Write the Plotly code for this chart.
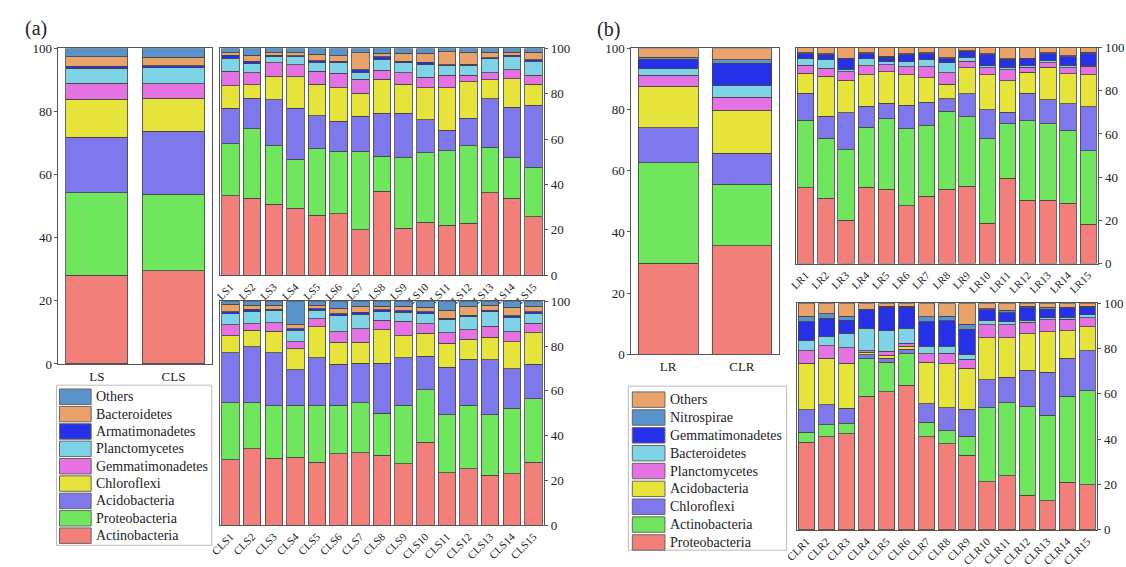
import plotly.graph_objects as go

W, H = 1126, 567

# ---------------- Panel (a) data ----------------
a_total_cats = ["LS", "CLS"]
a_series = ["Actinobacteria", "Proteobacteria", "Acidobacteria", "Chloroflexi", "Gemmatimonadetes",
            "Planctomycetes", "Armatimonadetes", "Bacteroidetes", "Others"]
a_colors = ["#F37F7B", "#70E65E", "#7F77EC", "#E6E33A", "#E572E3", "#7ED4E6", "#2530E8", "#E8A26A", "#5A93CC"]

# totals (LS, CLS) for each series, bottom -> top
a_total = {
    "Actinobacteria":   [28.1, 29.6],
    "Proteobacteria":   [26.2, 24.2],
    "Acidobacteria":    [17.5, 19.9],
    "Chloroflexi":      [12.1, 10.5],
    "Gemmatimonadetes": [5.1, 4.6],
    "Planctomycetes":   [4.6, 5.1],
    "Armatimonadetes":  [0.7, 0.7],
    "Bacteroidetes":    [3.1, 2.6],
    "Others":           [2.6, 2.8],
}

ls_cats = ["LS%d" % i for i in range(1, 16)]
act_LS = [35.0, 33.9, 31.4, 29.6, 26.4, 27.1, 20.0, 37.1, 20.7, 23.3, 22.1, 22.9, 36.4, 33.9, 25.7]
pro_LS = [22.9, 30.8, 25.7, 21.5, 29.3, 27.5, 34.7, 15.3, 31.2, 30.7, 32.9, 34.2, 20.0, 18.0, 21.9]
aci_LS = [15.7, 13.4, 20.3, 22.5, 14.7, 13.3, 15.3, 19.0, 19.5, 14.6, 9.0, 12.2, 21.5, 22.1, 27.4]
chl_LS = [10.0, 5.8, 10.2, 14.0, 13.9, 14.7, 10.3, 15.0, 12.9, 14.0, 18.6, 16.0, 8.2, 12.7, 9.3]
gem_LS = [6.4, 5.4, 6.0, 5.3, 5.7, 6.4, 6.1, 3.9, 5.0, 4.8, 5.5, 3.0, 3.2, 4.0, 3.8]
pla_LS = [5.7, 4.0, 2.8, 3.5, 4.0, 4.6, 3.2, 5.0, 4.3, 5.5, 4.3, 4.3, 6.1, 5.7, 6.2]
arm_LS = [1.4, 1.0, 0.7, 0.5, 0.6, 0.7, 1.0, 1.1, 0.7, 1.1, 0.5, 0.5, 0.6, 0.7, 0.7]
bac_LS = [1.0, 2.8, 1.0, 1.2, 2.8, 2.6, 7.5, 1.5, 3.6, 3.9, 5.7, 5.2, 2.3, 1.2, 3.3]
oth_LS = [1.9, 2.9, 1.9, 1.9, 2.6, 3.1, 1.9, 2.1, 2.1, 2.1, 1.4, 1.7, 1.7, 1.7, 1.7]

cls_cats = ["CLS%d" % i for i in range(1, 16)]
act_CLS = [29.2, 34.1, 29.8, 30.2, 28.1, 31.9, 32.4, 31.2, 27.3, 37.0, 23.3, 25.2, 22.3, 23.0, 28.1]
pro_CLS = [25.5, 20.6, 23.4, 23.3, 25.1, 21.6, 22.3, 18.7, 26.2, 23.4, 25.9, 28.3, 26.9, 29.1, 28.4]
aci_CLS = [22.3, 24.9, 23.8, 16.0, 21.6, 18.4, 17.7, 22.5, 21.3, 15.1, 21.3, 20.6, 24.6, 17.7, 15.4]
chl_CLS = [7.5, 7.4, 9.6, 9.2, 13.7, 9.7, 9.3, 14.9, 9.7, 10.1, 10.8, 8.9, 10.1, 12.2, 14.0]
gem_CLS = [5.0, 2.9, 3.8, 3.3, 3.6, 4.7, 6.1, 4.1, 6.6, 4.3, 4.6, 4.3, 4.9, 4.3, 4.3]
pla_CLS = [5.0, 5.5, 5.3, 5.0, 3.9, 7.2, 6.4, 4.0, 3.9, 4.6, 5.8, 5.8, 6.6, 6.5, 4.3]
arm_CLS = [0.8, 1.0, 0.7, 0.8, 0.7, 1.0, 0.8, 0.7, 0.7, 0.9, 0.7, 0.7, 0.6, 0.7, 0.8]
bac_CLS = [3.3, 1.7, 1.7, 1.8, 1.6, 2.3, 2.8, 1.7, 2.1, 2.0, 3.6, 4.0, 2.1, 3.9, 2.5]
oth_CLS = [1.4, 1.9, 1.9, 10.4, 1.7, 3.2, 2.2, 2.2, 2.2, 2.6, 4.0, 2.2, 1.9, 2.6, 2.2]

# ---------------- Panel (b) data ----------------
b_total_cats = ["LR", "CLR"]
b_series = ["Proteobacteria", "Actinobacteria", "Chloroflexi", "Acidobacteria", "Planctomycetes",
            "Bacteroidetes", "Gemmatimonadetes", "Nitrospirae", "Others"]
b_colors = ["#F37F7B", "#70E65E", "#7F77EC", "#E6E33A", "#E572E3", "#7ED4E6", "#2530E8", "#5A93CC", "#E8A26A"]

b_total = {
    "Proteobacteria":   [29.8, 35.5],
    "Actinobacteria":   [32.8, 20.1],
    "Chloroflexi":      [11.5, 10.1],
    "Acidobacteria":    [13.5, 14.1],
    "Planctomycetes":   [3.6, 4.2],
    "Bacteroidetes":    [2.2, 3.9],
    "Gemmatimonadetes": [3.1, 7.3],
    "Nitrospirae":      [0.7, 1.1],
    "Others":           [2.8, 3.7],
}

lr_cats = ["LR%d" % i for i in range(1, 16)]
pro_LR = [35.1, 30.2, 20.1, 35.4, 34.3, 26.7, 31.2, 34.3, 35.8, 18.6, 39.5, 29.4, 29.4, 27.9, 18.3]
act_LR = [31.2, 27.8, 32.6, 27.8, 32.7, 35.7, 32.7, 36.3, 32.2, 39.1, 25.3, 36.7, 35.4, 33.9, 33.9]
chl_LR = [12.5, 10.1, 17.1, 9.6, 7.3, 10.9, 10.8, 5.6, 10.5, 13.6, 5.2, 12.7, 11.1, 12.2, 20.3]
aci_LR = [9.3, 18.5, 15.0, 14.6, 14.6, 14.1, 11.2, 6.7, 12.1, 16.1, 14.7, 9.8, 14.9, 13.8, 14.9]
pla_LR = [3.7, 3.7, 4.1, 4.1, 3.2, 3.7, 5.2, 5.5, 3.0, 3.2, 4.9, 2.2, 2.2, 2.8, 4.0]
bac_LR = [3.0, 4.2, 1.1, 3.3, 1.5, 2.2, 3.4, 4.5, 1.9, 0.9, 1.2, 0.7, 1.1, 1.2, 0.4]
gem_LR = [2.2, 2.1, 4.8, 2.2, 1.9, 3.3, 2.5, 1.9, 2.7, 5.1, 3.7, 3.3, 2.9, 4.0, 5.2]
nit_LR = [0.5, 0.4, 0.3, 0.5, 0.5, 0.4, 0.5, 0.4, 0.3, 0.4, 0.3, 0.3, 0.5, 0.5, 0.8]
oth_LR = [2.5, 3.0, 4.9, 2.5, 4.0, 3.0, 2.5, 4.8, 1.5, 3.0, 5.2, 4.9, 2.5, 3.7, 2.2]

clr_cats = ["CLR%d" % i for i in range(1, 16)]
pro_CLR = [38.6, 41.1, 42.3, 58.9, 61.0, 63.8, 41.1, 38.0, 33.0, 21.3, 23.8, 15.3, 12.8, 21.0, 19.9]
act_CLR = [4.4, 5.3, 4.5, 16.6, 13.0, 13.9, 6.4, 5.7, 8.4, 32.6, 32.2, 39.0, 37.8, 37.9, 41.4]
chl_CLR = [9.9, 8.9, 6.8, 1.8, 1.6, 2.0, 8.1, 10.2, 11.8, 12.3, 11.4, 16.2, 18.9, 16.7, 17.7]
aci_CLR = [20.6, 20.3, 19.9, 1.1, 1.4, 1.2, 18.4, 19.4, 18.1, 18.6, 17.4, 16.0, 18.0, 12.3, 10.6]
pla_CLR = [5.6, 5.7, 6.9, 0.7, 1.7, 1.4, 3.7, 4.7, 3.9, 5.7, 5.6, 5.0, 5.1, 5.0, 4.0]
bac_CLR = [4.6, 4.2, 6.4, 9.8, 9.2, 6.6, 3.2, 2.9, 2.1, 1.7, 1.5, 1.0, 1.0, 1.0, 1.4]
gem_CLR = [8.2, 7.8, 5.7, 8.3, 10.4, 9.4, 11.0, 11.3, 11.1, 5.0, 3.8, 5.4, 3.8, 4.0, 3.2]
nit_CLR = [2.4, 2.0, 1.8, 0.2, 0.3, 0.3, 2.1, 2.1, 2.4, 0.4, 1.2, 0.7, 0.9, 0.4, 0.4]
oth_CLR = [5.7, 4.7, 5.7, 2.6, 1.4, 1.4, 6.0, 5.7, 9.2, 2.4, 3.1, 1.4, 1.7, 1.7, 1.4]

y_ticks = [0, 20, 40, 60, 80, 100]

# ---------------- build figure ----------------
FONT = "Liberation Serif, Times New Roman, serif"
LINE = "#555555"

def px_x(x):
    return x / W

def px_y(y):
    return 1 - y / H

fig = go.Figure()

panels = [
    (1, a_total_cats, a_series, [a_total[s] for s in a_series], a_colors, (47, 202), (43, 370), "left", 0),
    (2, ls_cats, a_series, [act_LS, pro_LS, aci_LS, chl_LS, gem_LS, pla_LS, arm_LS, bac_LS, oth_LS],
     a_colors, (210, 538), (43, 278), "right", -45),
    (3, cls_cats, a_series, [act_CLS, pro_CLS, aci_CLS, chl_CLS, gem_CLS, pla_CLS, arm_CLS, bac_CLS, oth_CLS],
     a_colors, (210, 538), (305, 537), "right", -45),
    (4, b_total_cats, b_series, [b_total[s] for s in b_series], b_colors, (626, 775), (43, 360), "left", 0),
    (5, lr_cats, b_series, [pro_LR, act_LR, chl_LR, aci_LR, pla_LR, bac_LR, gem_LR, nit_LR, oth_LR],
     b_colors, (792, 1098), (42, 266), "right", -45),
    (6, clr_cats, b_series, [pro_CLR, act_CLR, chl_CLR, aci_CLR, pla_CLR, bac_CLR, gem_CLR, nit_CLR, oth_CLR],
     b_colors, (793, 1097), (307, 542), "right", -45),
]

layout_axes = {}
for idx, cats, names, vals, cols, xr, yr, side, tang in panels:
    xa = "x" if idx == 1 else "x%d" % idx
    ya = "y" if idx == 1 else "y%d" % idx
    for name, v, c in zip(names, vals, cols):
        fig.add_trace(go.Bar(
            x=cats, y=v, name=name, xaxis=xa, yaxis=ya, showlegend=False,
            marker=dict(color=c, line=dict(color="#444444", width=0.8)),
        ))
    xkey = "xaxis" if idx == 1 else "xaxis%d" % idx
    ykey = "yaxis" if idx == 1 else "yaxis%d" % idx
    layout_axes[xkey] = dict(
        domain=[px_x(xr[0]), px_x(xr[1])], anchor=ya, showline=True, mirror=True,
        linecolor=LINE, linewidth=1, showgrid=False, zeroline=False, ticks="",
        tickangle=tang, tickfont=dict(family=FONT, size=13 if tang == 0 else 11, color="#222"),
        fixedrange=True,
    )
    layout_axes[ykey] = dict(
        domain=[px_y(yr[1]), px_y(yr[0])], anchor=xa, range=[0, 100], tickvals=y_ticks,
        side=side, showline=True, mirror=True, linecolor=LINE, linewidth=1,
        showgrid=False, zeroline=False, ticks="outside", ticklen=3, tickcolor=LINE,
        tickfont=dict(family=FONT, size=13, color="#222"), fixedrange=True,
    )

fig.update_layout(**layout_axes)

# ---------------- manual legends ----------------
shapes = []
annotations = []

def add_legend(box, names, colors, sw_x, row0, step, text_x):
    x0, y0, x1, y1 = box
    shapes.append(dict(type="rect", xref="paper", yref="paper",
                       x0=px_x(x0), x1=px_x(x1), y0=px_y(y1), y1=px_y(y0),
                       line=dict(color="#bbbbbb", width=1), fillcolor="white"))
    for i, (n, c) in enumerate(zip(names, colors)):
        cy = row0 + i * step
        shapes.append(dict(type="rect", xref="paper", yref="paper",
                           x0=px_x(sw_x[0]), x1=px_x(sw_x[1]),
                           y0=px_y(cy + 8), y1=px_y(cy - 8),
                           line=dict(color="#666666", width=1), fillcolor=c))
        annotations.append(dict(text=n, xref="paper", yref="paper", x=px_x(text_x), y=px_y(cy),
                                xanchor="left", yanchor="middle", showarrow=False,
                                font=dict(family=FONT, size=14, color="#222")))

add_legend((45, 392, 202, 558), a_series[::-1], a_colors[::-1], (48, 80), 404, 18, 83)
add_legend((623, 393, 783, 563), b_series[::-1], b_colors[::-1], (627, 660), 407, 18.5, 663)

annotations.append(dict(text="(a)", xref="paper", yref="paper", x=px_x(24), y=px_y(22),
                        xanchor="center", yanchor="middle", showarrow=False,
                        font=dict(family=FONT, size=20, color="#222")))
annotations.append(dict(text="(b)", xref="paper", yref="paper", x=px_x(603), y=px_y(23),
                        xanchor="center", yanchor="middle", showarrow=False,
                        font=dict(family=FONT, size=20, color="#222")))

fig.update_layout(
    width=W, height=H, margin=dict(l=0, r=0, t=0, b=0),
    paper_bgcolor="white", plot_bgcolor="white",
    barmode="stack", bargap=0.19,
    shapes=shapes, annotations=annotations,
    font=dict(family=FONT, color="#222"),
)

fig.write_html("out.html",
               post_script="document.body.style.margin='0';document.body.style.overflow='hidden';")
